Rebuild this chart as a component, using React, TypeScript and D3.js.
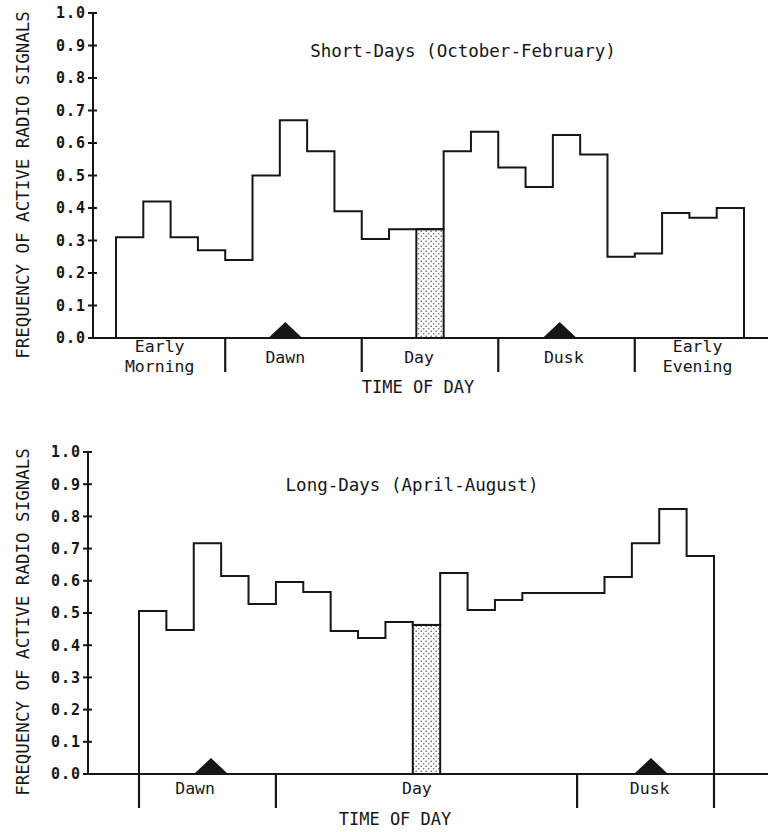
import React from "react";
import * as d3 from "d3";

// frequency of active radio signals per time bin
const shortDaysValues = [
  0.31, 0.42, 0.31, 0.27, 0.24, 0.5, 0.67, 0.575, 0.39, 0.305, 0.335, 0.335,
  0.575, 0.635, 0.525, 0.465, 0.625, 0.565, 0.25, 0.26, 0.385, 0.37, 0.4,
];
const longDaysValues = [
  0.506, 0.447, 0.717, 0.615, 0.528, 0.596, 0.565, 0.444, 0.422, 0.472, 0.463,
  0.624, 0.509, 0.54, 0.562, 0.562, 0.562, 0.612, 0.717, 0.823, 0.677,
];
// index of the shaded (noon) bin
const shortDaysNoon = 11;
const longDaysNoon = 10;

const yTicks = [0, 0.1, 0.2, 0.3, 0.4, 0.5, 0.6, 0.7, 0.8, 0.9, 1.0];
const yTickLabels = ["0.0", "0.1", "0.2", "0.3", "0.4", "0.5", "0.6", "0.7", "0.8", "0.9", "1.0"];

// period names; dividers and label anchors are in bin units
const shortPeriodLabels = [["Early", "Morning"], ["Dawn"], ["Day"], ["Dusk"], ["Early", "Evening"]];
const shortPeriodAt = [1.6, 6.2, 11.1, 16.4, 21.3];
const shortDividers = [4, 9, 14, 19];
const shortSunMarks = [6.2, 16.25];

const longPeriodLabels = [["Dawn"], ["Day"], ["Dusk"]];
const longPeriodAt = [2.05, 10.15, 18.65];
const longDividers = [0, 5, 16, 21];
const longSunMarks = [2.63, 18.7];

const MONO = "'DejaVu Sans Mono', 'Liberation Mono', monospace";
const INK = "#161616";

type PanelProps = {
  id: string;
  title: string;
  titleX: number;
  titleY: number;
  values: number[];
  noon: number;
  labels: string[][];
  labelAt: number[];
  dividers: number[];
  sunMarks: number[];
  x0: number;
  x1: number;
  yTop: number;
  yBase: number;
  axisX: number;
  labelY: number;
  xTitleX: number;
  xTitleY: number;
  yTitleY: number;
};

function Panel(p: PanelProps) {
  const n = p.values.length;
  const x = d3.scaleLinear().domain([0, n]).range([p.x0, p.x1]);
  const y = d3.scaleLinear().domain([0, 1]).range([p.yBase, p.yTop]);

  const pts: [number, number][] = [[0, 0]];
  p.values.forEach((v, i) => {
    pts.push([i, v]);
    pts.push([i + 1, v]);
  });
  pts.push([n, 0]);
  const step = d3
    .line<[number, number]>()
    .x((d) => x(d[0]))
    .y((d) => y(d[1]))(pts) as string;

  const tri = (b: number) => {
    const cx = x(b);
    return `M${cx - 17},${p.yBase} L${cx},${p.yBase - 16} L${cx + 17},${p.yBase} Z`;
  };

  return (
    <g>
      <defs>
        <pattern id={`dots-${p.id}`} width="5" height="5" patternUnits="userSpaceOnUse">
          <rect width="5" height="5" fill="#fff" />
          <circle cx="1.2" cy="1.2" r="0.8" fill="#555" />
          <circle cx="3.7" cy="3.7" r="0.8" fill="#666" />
        </pattern>
        <clipPath id={`below-${p.id}`}>
          <rect x="0" y={p.yBase + 1} width="768" height="80" />
        </clipPath>
      </defs>

      <text x={p.titleX} y={p.titleY} textAnchor="middle" fontFamily={MONO} fontSize="17.5" fill={INK}>
        {p.title}
      </text>

      <text
        transform={`translate(29,${p.yTitleY}) rotate(-90)`}
        textAnchor="middle"
        fontFamily={MONO}
        fontSize="17.5"
        fill={INK}
      >
        FREQUENCY OF ACTIVE RADIO SIGNALS
      </text>

      {/* y axis */}
      <line x1={p.axisX} x2={p.axisX} y1={y(1)} y2={p.yBase} stroke={INK} strokeWidth="2" />
      {yTicks.map((t, i) => (
        <g key={t}>
          <line x1={p.axisX - 5} x2={p.axisX + 4} y1={y(t)} y2={y(t)} stroke={INK} strokeWidth="2" />
          <text
            x={p.axisX - 7}
            y={y(t)}
            dy="0.36em"
            textAnchor="end"
            fontFamily={MONO}
            fontWeight="bold"
            fontSize="15"
            letterSpacing="1"
            fill={INK}
          >
            {yTickLabels[i]}
          </text>
        </g>
      ))}

      {/* period labels, clipped at the baseline like the original */}
      <g clipPath={`url(#below-${p.id})`}>
        {p.labels.map((lines, i) =>
          lines.length === 1 ? (
            <text key={i} x={x(p.labelAt[i])} y={p.labelY} textAnchor="middle" fontFamily={MONO} fontSize="16.5" fill={INK}>
              {lines[0]}
            </text>
          ) : (
            <text key={i} x={x(p.labelAt[i])} y={p.labelY - 11} textAnchor="middle" fontFamily={MONO} fontSize="16.5" fill={INK}>
              <tspan x={x(p.labelAt[i])}>{lines[0]}</tspan>
              <tspan x={x(p.labelAt[i])} dy="20">
                {lines[1]}
              </tspan>
            </text>
          )
        )}
      </g>

      <text x={p.xTitleX} y={p.xTitleY} textAnchor="middle" fontFamily={MONO} fontSize="17" fill={INK}>
        TIME OF DAY
      </text>

      {/* shaded noon bin */}
      <rect
        x={x(p.noon)}
        y={y(p.values[p.noon])}
        width={x(p.noon + 1) - x(p.noon)}
        height={p.yBase - y(p.values[p.noon])}
        fill={`url(#dots-${p.id})`}
        stroke={INK}
        strokeWidth="2"
      />

      <path d={step} fill="none" stroke={INK} strokeWidth="2" strokeLinejoin="miter" />

      {/* x axis and period dividers */}
      <line x1={p.axisX} x2={768} y1={p.yBase} y2={p.yBase} stroke={INK} strokeWidth="2" />
      {p.dividers.map((b) => (
        <line key={b} x1={x(b)} x2={x(b)} y1={p.yBase} y2={p.yBase + 34} stroke={INK} strokeWidth="2.2" />
      ))}

      {p.sunMarks.map((b) => (
        <path key={b} d={tri(b)} fill={INK} />
      ))}
    </g>
  );
}

export default function App() {
  return (
    <svg width={768} height={832} style={{ position: "absolute", left: 0, top: 0, background: "#fff" }}>
      <rect width={768} height={832} fill="#fff" />
      <Panel
        id="short"
        title="Short-Days (October-February)"
        titleX={463}
        titleY={57}
        values={shortDaysValues}
        noon={shortDaysNoon}
        labels={shortPeriodLabels}
        labelAt={shortPeriodAt}
        dividers={shortDividers}
        sunMarks={shortSunMarks}
        x0={116}
        x1={744}
        yTop={13}
        yBase={338}
        axisX={93}
        labelY={363}
        xTitleX={418}
        xTitleY={393}
        yTitleY={185}
      />
      <Panel
        id="long"
        title="Long-Days (April-August)"
        titleX={412}
        titleY={491}
        values={longDaysValues}
        noon={longDaysNoon}
        labels={longPeriodLabels}
        labelAt={longPeriodAt}
        dividers={longDividers}
        sunMarks={longSunMarks}
        x0={139}
        x1={714}
        yTop={452}
        yBase={774}
        axisX={88}
        labelY={794}
        xTitleX={395}
        xTitleY={825}
        yTitleY={622}
      />
    </svg>
  );
}
